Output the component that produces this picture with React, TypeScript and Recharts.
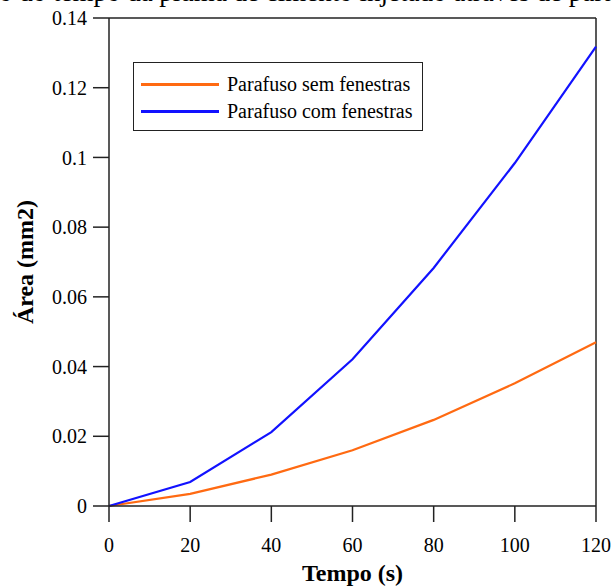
import { LineChart, Line, XAxis, YAxis, Legend, ReferenceLine } from "recharts";

const tempo = [0, 20, 40, 60, 80, 100, 120];
const semFenestras = [0, 0.0035, 0.009, 0.016, 0.0247, 0.0352, 0.047];
const comFenestras = [0, 0.0069, 0.0212, 0.0421, 0.0683, 0.0984, 0.1318];
const xTicks = [0, 20, 40, 60, 80, 100, 120];
const yTicks = [0, 0.02, 0.04, 0.06, 0.08, 0.1, 0.12, 0.14];
const seriesNames = ["Parafuso sem fenestras", "Parafuso com fenestras"];
const seriesColors = ["#ff6a12", "#1212ff"];

const data = tempo.map((t, i) => ({ t, sem: semFenestras[i], com: comFenestras[i] }));

const serif = "'Liberation Serif', 'Times New Roman', serif";
const axisColor = "#222";

function YLabel({ viewBox }: any) {
  const x = viewBox.x + 33;
  const y = viewBox.y + viewBox.height / 2;
  return (
    <text x={x} y={y} transform={`rotate(-90 ${x} ${y})`} textAnchor="middle"
      fontFamily={serif} fontWeight="bold" fontSize={24} fill="#000">
      Área (mm2)
    </text>
  );
}

function XLabel({ viewBox }: any) {
  const x = viewBox.x + viewBox.width / 2;
  const y = viewBox.y + 75;
  return (
    <text x={x} y={y} textAnchor="middle" fontFamily={serif} fontWeight="bold" fontSize={24} fill="#000">
      Tempo (s)
    </text>
  );
}

function LegendBox() {
  return (
    <div style={{
      width: 290, height: 69, boxSizing: "border-box", border: `1.5px solid ${axisColor}`,
      background: "#fff", paddingTop: 8, fontFamily: serif, fontSize: 20, color: "#000",
    }}>
      {seriesNames.map((name, i) => (
        <div key={name} style={{ display: "flex", alignItems: "center", height: 27 }}>
          <div style={{ marginLeft: 7, width: 78, height: 2.5, background: seriesColors[i] }} />
          <span style={{ marginLeft: 8, lineHeight: "27px" }}>{name}</span>
        </div>
      ))}
    </div>
  );
}

export default function App() {
  return (
    <div style={{ position: "absolute", left: 0, top: 0, width: 611, height: 588, overflow: "hidden", background: "#fff" }}>
      <LineChart width={611} height={588} data={data} margin={{ top: 18, right: 15, left: 0, bottom: 0 }}>
        <XAxis dataKey="t" type="number" domain={[0, 120]} ticks={xTicks} height={82}
          tickSize={16} tickMargin={16}
          axisLine={{ stroke: axisColor, strokeWidth: 1.5 }} tickLine={{ stroke: axisColor, strokeWidth: 1.5 }}
          tick={{ fill: "#000", fontSize: 20, fontFamily: serif }}
          label={<XLabel />} />
        <YAxis type="number" domain={[0, 0.14]} ticks={yTicks} width={109}
          tickSize={16} tickMargin={6}
          axisLine={{ stroke: axisColor, strokeWidth: 1.5 }} tickLine={{ stroke: axisColor, strokeWidth: 1.5 }}
          tick={{ fill: "#000", fontSize: 20, fontFamily: serif }}
          label={<YLabel />} />
        <ReferenceLine y={0.14} stroke={axisColor} strokeWidth={1.5} />
        <ReferenceLine x={120} stroke={axisColor} strokeWidth={1.5} />
        <Line dataKey="sem" name={seriesNames[0]} stroke={seriesColors[0]} strokeWidth={2.2} dot={false} isAnimationActive={false} />
        <Line dataKey="com" name={seriesNames[1]} stroke={seriesColors[1]} strokeWidth={2.2} dot={false} isAnimationActive={false} />
        <Legend layout="vertical" align="center" verticalAlign="middle" content={<LegendBox />}
          wrapperStyle={{ position: "absolute", left: 133, top: 62, width: 290, height: 69 }} />
      </LineChart>
      <div style={{
        position: "absolute", left: -160, top: -21, whiteSpace: "nowrap",
        fontFamily: serif, fontSize: 27, lineHeight: 1, color: "#000",
      }}>
        Área em função do tempo da pluma de cimento injetado através de parafusos
      </div>
    </div>
  );
}
